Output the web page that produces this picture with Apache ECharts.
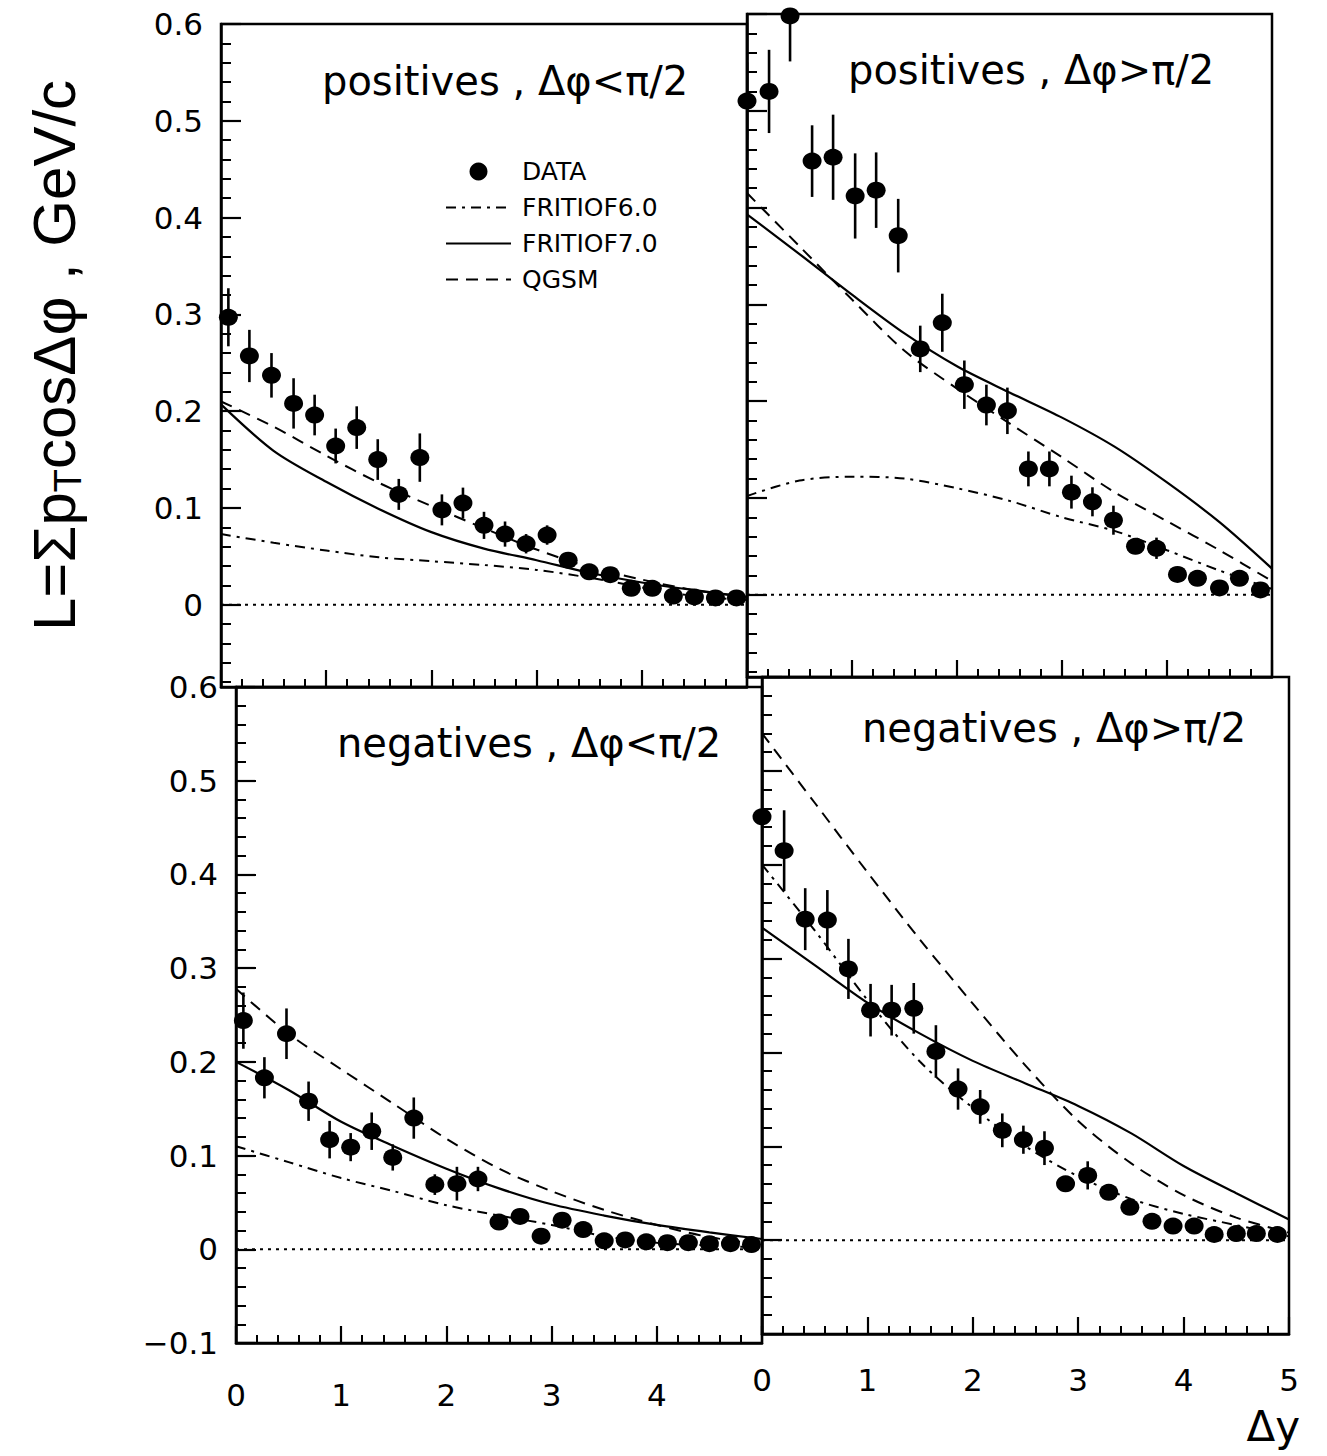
<!DOCTYPE html>
<html><head><meta charset="utf-8">
<script src="https://cdn.jsdelivr.net/npm/echarts@6/dist/echarts.min.js"></script>
<style>html,body{margin:0;padding:0;background:#fff}#c{width:1327px;height:1456px}</style>
</head><body><div id="c"></div>
<script>
// ---- data ----
const dyL = [0.07,0.27,0.48,0.69,0.89,1.09,1.29,1.49,1.69,1.89,2.1,2.3,2.5,2.7,2.9,3.1,3.3,3.5,3.7,3.9,4.1,4.3,4.5,4.7,4.9];
const dyR = [0.0,0.21,0.41,0.62,0.82,1.03,1.23,1.44,1.65,1.86,2.07,2.28,2.48,2.68,2.88,3.09,3.29,3.49,3.7,3.9,4.1,4.29,4.5,4.69,4.89];

const posLtVal = [0.297,0.257,0.237,0.208,0.196,0.164,0.183,0.150,0.114,0.152,0.098,0.105,0.082,0.073,0.063,0.072,0.046,0.034,0.031,0.017,0.017,0.009,0.008,0.007,0.007];
const posLtErr = [0.030,0.027,0.023,0.026,0.021,0.018,0.022,0.021,0.016,0.025,0.016,0.016,0.014,0.013,0.010,0.010,0.008,0.006,0.005,0.004,0.004,0.003,0.003,0.003,0.003];
const posGtVal = [0.510,0.520,0.598,0.448,0.452,0.412,0.418,0.371,0.254,0.281,0.217,0.196,0.190,0.130,0.130,0.106,0.096,0.077,0.050,0.048,0.021,0.017,0.007,0.017,0.005];
const posGtErr = [0.040,0.043,0.047,0.037,0.044,0.044,0.039,0.038,0.024,0.030,0.025,0.021,0.024,0.018,0.018,0.017,0.015,0.015,0.008,0.011,0.005,0.005,0.004,0.005,0.004];
const negLtVal = [0.244,0.183,0.230,0.158,0.117,0.109,0.126,0.098,0.140,0.069,0.070,0.075,0.029,0.035,0.014,0.031,0.021,0.009,0.010,0.008,0.007,0.007,0.006,0.006,0.005];
const negLtErr = [0.030,0.022,0.027,0.021,0.020,0.015,0.020,0.014,0.022,0.011,0.018,0.013,0.005,0.005,0.004,0.005,0.004,0.003,0.003,0.003,0.003,0.003,0.003,0.003,0.003];
const negGtVal = [0.451,0.415,0.342,0.341,0.289,0.245,0.245,0.247,0.201,0.161,0.142,0.117,0.107,0.098,0.060,0.069,0.051,0.035,0.020,0.015,0.015,0.006,0.007,0.007,0.006];
const negGtErr = [0.046,0.043,0.033,0.032,0.032,0.028,0.027,0.027,0.028,0.022,0.018,0.018,0.015,0.018,0.008,0.015,0.008,0.005,0.004,0.004,0.004,0.003,0.003,0.003,0.003];

const curveX = [0,0.5,1,1.5,2,2.5,3,3.5,4,4.5,5];
const posLtF6 = [0.073,0.064,0.056,0.049,0.045,0.041,0.036,0.028,0.018,0.009,0.005];
const posLtF7 = [0.207,0.159,0.127,0.099,0.075,0.058,0.046,0.033,0.023,0.015,0.008];
const posLtQ  = [0.210,0.184,0.154,0.126,0.102,0.079,0.057,0.039,0.026,0.015,0.008];
const posGtF6 = [0.102,0.118,0.122,0.120,0.110,0.097,0.080,0.066,0.046,0.025,0.006];
const posGtF7 = [0.393,0.352,0.310,0.270,0.236,0.209,0.183,0.153,0.116,0.075,0.027];
const posGtQ  = [0.415,0.360,0.305,0.252,0.213,0.177,0.142,0.106,0.076,0.046,0.014];
const negLtF6 = [0.110,0.093,0.076,0.062,0.047,0.036,0.026,0.014,0.007,0.004,0.002];
const negLtF7 = [0.200,0.170,0.136,0.110,0.086,0.065,0.048,0.036,0.026,0.018,0.011];
const negLtQ  = [0.278,0.230,0.192,0.155,0.118,0.086,0.062,0.042,0.026,0.013,0.005];
const negGtF6 = [0.400,0.330,0.256,0.190,0.141,0.100,0.068,0.044,0.028,0.016,0.004];
const negGtF7 = [0.333,0.293,0.253,0.220,0.191,0.167,0.143,0.114,0.079,0.050,0.022];
const negGtQ  = [0.540,0.466,0.392,0.320,0.252,0.186,0.127,0.082,0.048,0.024,0.008];

const zeroLine = [[0,0],[5,0]];
const yLabelsTop = [0,0.1,0.2,0.3,0.4,0.5,0.6];
const yLabelsBot = [-0.1,0,0.1,0.2,0.3,0.4,0.5,0.6];
const yMinorTop = [-0.08,-0.06,-0.04,-0.02,0,0.02,0.04,0.06,0.08,0.1,0.12,0.14,0.16,0.18,0.2,0.22,0.24,0.26,0.28,0.3,0.32,0.34,0.36,0.38,0.4,0.42,0.44,0.46,0.48,0.5,0.52,0.54,0.56,0.58,0.6];
const yMinorBot = [-0.1,-0.08,-0.06,-0.04,-0.02,0,0.02,0.04,0.06,0.08,0.1,0.12,0.14,0.16,0.18,0.2,0.22,0.24,0.26,0.28,0.3,0.32,0.34,0.36,0.38,0.4,0.42,0.44,0.46,0.48,0.5,0.52,0.54,0.56,0.58,0.6];
const panelTitles = ['positives , Δφ<π/2','positives , Δφ>π/2','negatives , Δφ<π/2','negatives , Δφ>π/2'];
const legendNames = ['DATA','FRITIOF6.0','FRITIOF7.0','QGSM'];

// ---- layout ----
const panels = [
  {grid:{left:221, top:24, width:526, height:663}, ymin:-0.085, labels:yLabelsTop, minor:yMinorTop, dy:dyL, val:posLtVal, err:posLtErr, f6:posLtF6, f7:posLtF7, q:posLtQ, yl:true, xl:false, hide5:true, xm:36, title:[322,61]},
  {grid:{left:747, top:14, width:525, height:663}, ymin:-0.085, labels:yLabelsTop, minor:yMinorTop, dy:dyR, val:posGtVal, err:posGtErr, f6:posGtF6, f7:posGtF7, q:posGtQ, yl:false, xl:false, hide5:false, xm:30, title:[848,50]},
  {grid:{left:236, top:687, width:526, height:656}, ymin:-0.1, labels:yLabelsBot, minor:yMinorBot, dy:dyL, val:negLtVal, err:negLtErr, f6:negLtF6, f7:negLtF7, q:negLtQ, yl:true, xl:true, hide5:true, xm:36, title:[337,723]},
  {grid:{left:762, top:677, width:527, height:657}, ymin:-0.1, labels:yLabelsBot, minor:yMinorBot, dy:dyR, val:negGtVal, err:negGtErr, f6:negGtF6, f7:negGtF7, q:negGtQ, yl:false, xl:true, hide5:false, xm:30, title:[862,708]}
];

const BLACK = '#000';
const FONT = 'DejaVu Sans';
const grid = [], xAxis = [], yAxis = [], series = [], title = [];

panels.forEach((p, i) => {
  grid.push(Object.assign({show:true, borderColor:BLACK, borderWidth:2.5, backgroundColor:'transparent'}, p.grid));
  xAxis.push({
    gridIndex:i, type:'value', min:0, max:5, interval:1,
    axisLine:{show:true, onZero:false, lineStyle:{color:BLACK, width:2.5}},
    axisTick:{show:true, inside:true, length:17, lineStyle:{color:BLACK, width:2.2}},
    minorTick:{show:true, splitNumber:5, length:8, lineStyle:{color:BLACK, width:2}},
    splitLine:{show:false}, minorSplitLine:{show:false},
    axisLabel:{show:p.xl, margin:p.xm, fontSize:31, fontFamily:FONT, color:BLACK,
      formatter:(v) => (p.hide5 && v === 5) ? '' : String(v)}
  });
  const yMaj = {
    gridIndex:i, type:'value', position:'left', min:p.ymin, max:0.6,
    axisLine:{show:true, onZero:false, lineStyle:{color:BLACK, width:2.5}},
    axisTick:{show:true, inside:true, length:20, customValues:p.labels, lineStyle:{color:BLACK, width:2.2}},
    axisLabel:{show:p.yl, customValues:p.labels, margin:18, fontSize:31, fontFamily:FONT, color:BLACK,
      formatter:(v) => { const r = Math.round(v*10)/10; return r === 0 ? '0' : r.toFixed(1).replace('-', '\u2212'); }},
    splitLine:{show:false}
  };
  if (i === 0) {
    yMaj.name = '{a|L=Σp}{s|T}{a|cosΔφ , GeV/c}';
    yMaj.nameLocation = 'middle';
    yMaj.nameRotate = 90;
    yMaj.nameGap = 134;
    yMaj.nameTextStyle = {color:BLACK, rich:{
      a:{fontSize:60, fontFamily:'Liberation Sans', color:BLACK},
      s:{fontSize:38, fontFamily:'Liberation Sans', color:BLACK, padding:[28,0,0,0]}
    }};
  }
  yAxis.push(yMaj);
  yAxis.push({
    gridIndex:i, type:'value', position:'left', offset:0, min:p.ymin, max:0.6,
    axisLine:{show:false},
    axisTick:{show:true, inside:true, length:10, customValues:p.minor, lineStyle:{color:BLACK, width:2}},
    axisLabel:{show:false}, splitLine:{show:false}
  });
  const yi = 2*i;
  series.push({type:'line', name:'zero', xAxisIndex:i, yAxisIndex:yi, data:zeroLine, symbol:'none', silent:true,
    lineStyle:{color:BLACK, width:2, type:[3,5]}, z:1});
  series.push({type:'line', name:'FRITIOF6.0', xAxisIndex:i, yAxisIndex:yi, data:curveX.map((x,k)=>[x,p.f6[k]]),
    symbol:'none', showSymbol:false, smooth:0.3, itemStyle:{color:BLACK}, lineStyle:{color:BLACK, width:2, type:[10,6,3,6]}, z:2});
  series.push({type:'line', name:'FRITIOF7.0', xAxisIndex:i, yAxisIndex:yi, data:curveX.map((x,k)=>[x,p.f7[k]]),
    symbol:'none', showSymbol:false, smooth:0.3, itemStyle:{color:BLACK}, lineStyle:{color:BLACK, width:2.2, type:'solid'}, z:2});
  series.push({type:'line', name:'QGSM', xAxisIndex:i, yAxisIndex:yi, data:curveX.map((x,k)=>[x,p.q[k]]),
    symbol:'none', showSymbol:false, smooth:0.3, itemStyle:{color:BLACK}, lineStyle:{color:BLACK, width:2, type:[12,8]}, z:2});
  series.push({type:'custom', name:'DATA errors', xAxisIndex:i, yAxisIndex:yi, clip:true, silent:true, z:3,
    data:p.dy.map((x,k)=>[x,p.val[k],p.err[k]]), encode:{x:0, y:1},
    renderItem:(params, api) => {
      const x = api.value(0), y = api.value(1), e = api.value(2);
      const a = api.coord([x, y - e]), b = api.coord([x, y + e]);
      return {type:'line', shape:{x1:a[0], y1:a[1], x2:b[0], y2:b[1]}, style:{stroke:BLACK, lineWidth:2.6}};
    }});
  series.push({type:'scatter', name:'DATA', xAxisIndex:i, yAxisIndex:yi, clip:false, z:4,
    data:p.dy.map((x,k)=>[x,p.val[k]]), symbol:'circle', symbolSize:[19,17], itemStyle:{color:BLACK, opacity:1}});
  title.push({text:panelTitles[i], left:p.title[0], top:p.title[1], padding:0,
    textStyle:{fontSize:40, fontWeight:'normal', fontFamily:FONT, color:BLACK}});
});
title.push({text:'Δy', right:27, top:1403, padding:0, textStyle:{fontSize:42, lineHeight:46, fontWeight:'normal', fontFamily:FONT, color:BLACK}});

const chart = echarts.init(document.getElementById('c'), null, {renderer:'svg'});
chart.setOption({
  animation:false,
  backgroundColor:'#fff',
  title, grid, xAxis, yAxis, series,
  legend:{
    data: legendNames.map((n, k) => k === 0 ? {name:n, itemStyle:{color:BLACK, opacity:1}} : {name:n, itemStyle:{opacity:0}}),
    orient:'vertical', left:440, top:154,
    itemWidth:65, itemHeight:18, itemGap:11, selectedMode:false,
    lineStyle:{width:2},
    textStyle:{fontSize:25, fontFamily:FONT, color:BLACK, padding:[0,0,0,6]}}
});
</script></body></html>
